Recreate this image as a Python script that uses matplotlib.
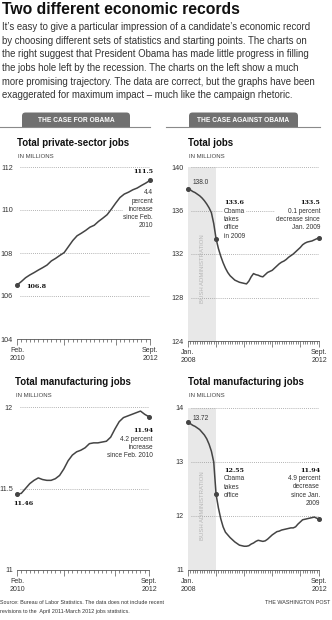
import matplotlib
matplotlib.use('Agg')
import matplotlib.pyplot as plt
from matplotlib.patches import FancyBboxPatch, Rectangle
import numpy as np

plt.rcParams['font.family'] = ['Liberation Sans', 'DejaVu Sans']

# ---- data (millions of jobs, monthly) ----
# Feb 2010 .. Sept 2012
private_jobs = [106.51, 106.67, 106.85, 106.98, 107.09, 107.21, 107.32, 107.44,
                107.63, 107.75, 107.89, 108.02, 108.30, 108.58, 108.80, 108.92,
                109.05, 109.20, 109.29, 109.47, 109.62, 109.78, 110.04, 110.32,
                110.58, 110.74, 110.83, 110.94, 111.02, 111.14, 111.25, 111.38]
# Jan 2008 .. Sept 2012
total_jobs = [138.0, 137.9, 137.75, 137.65, 137.5, 137.35, 137.15, 136.9, 136.6,
              136.25, 135.8, 134.8, 133.4, 132.5, 131.8, 131.2, 130.7, 130.3,
              130.0, 129.8, 129.6, 129.5, 129.4, 129.35, 129.3, 129.25, 129.5,
              129.9, 130.2, 130.1, 130.05, 129.95, 129.9, 130.1, 130.3, 130.4,
              130.5, 130.7, 130.9, 131.1, 131.25, 131.35, 131.5, 131.7, 131.85,
              132.0, 132.2, 132.4, 132.6, 132.85, 133.0, 133.1, 133.15, 133.2,
              133.3, 133.4, 133.5]
# Feb 2010 .. Sept 2012
mfg_short = [11.465, 11.47, 11.50, 11.53, 11.55, 11.565, 11.555, 11.55, 11.55,
             11.56, 11.58, 11.62, 11.67, 11.705, 11.725, 11.735, 11.75, 11.775,
             11.78, 11.78, 11.785, 11.79, 11.815, 11.865, 11.91, 11.935, 11.945,
             11.955, 11.965, 11.975, 11.955, 11.94]
# Jan 2008 .. Sept 2012
mfg_long = [13.74, 13.71, 13.68, 13.66, 13.63, 13.6, 13.55, 13.5, 13.43, 13.33,
            13.2, 13.0, 12.4, 12.15, 11.95, 11.8, 11.7, 11.65, 11.6, 11.56, 11.52,
            11.49, 11.46, 11.45, 11.44, 11.44, 11.45, 11.48, 11.5, 11.53, 11.55,
            11.54, 11.53, 11.54, 11.57, 11.61, 11.65, 11.68, 11.71, 11.72, 11.74,
            11.75, 11.76, 11.77, 11.78, 11.78, 11.8, 11.85, 11.89, 11.93, 11.94,
            11.95, 11.96, 11.97, 11.98, 11.96, 11.94]

body = [
    "It\u2019s easy to give a particular impression of a candidate\u2019s economic record",
    "by choosing different sets of statistics and starting points. The charts on",
    "the right suggest that President Obama has made little progress in filling",
    "the jobs hole left by the recession. The charts on the left show a much",
    "more promising trajectory. The data are correct, but the graphs have been",
    "exaggerated for maximum impact \u2013 much like the campaign rhetoric.",
]

LINE = '#444444'
W, H = 332, 620
fig = plt.figure(figsize=(W / 100, H / 100), dpi=100)

bg = fig.add_axes([0, 0, 1, 1])
bg.set_xlim(0, W)
bg.set_ylim(H, 0)
bg.axis('off')


def box(l, t, r, b):
    return [l / W, 1 - b / H, (r - l) / W, (b - t) / H]


def panel(l, t, r, b, values, ylim, yticks, ylabels, major, xlabels):
    ax = fig.add_axes(box(l, t, r, b))
    ax.patch.set_alpha(0)
    x = np.arange(len(values))
    ax.plot(x, values, color=LINE, lw=1.1, zorder=3, clip_on=False)
    ax.set_xlim(0, len(values) - 1)
    ax.set_ylim(*ylim)
    for s in ['top', 'right', 'left']:
        ax.spines[s].set_visible(False)
    ax.spines['bottom'].set_color('#555555')
    ax.spines['bottom'].set_linewidth(0.6)
    ax.set_yticks(yticks)
    ax.set_yticklabels(ylabels)
    ax.tick_params(axis='y', length=0, pad=3, labelsize=5.2, labelcolor='#333333')
    for v in yticks[1:]:
        ax.axhline(v, xmin=0.02, color='#9a9a9a', lw=0.6, ls=(0, (1, 1.5)), zorder=1)
    ax.set_xticks(major)
    ax.set_xticklabels(xlabels)
    ax.set_xticks(x, minor=True)
    ax.tick_params(axis='x', which='major', length=4, width=0.5, color='#555555',
                   labelsize=5, labelcolor='#333333', pad=2)
    ax.tick_params(axis='x', which='minor', length=2.2, width=0.5, color='#555555')
    for lab in ax.get_xticklabels():
        lab.set_linespacing(1.1)
    return ax


def dot(ax, i, values):
    ax.plot(i, values[i], 'o', color=LINE, ms=2.6, zorder=4, clip_on=False)


def note(ax, i, values, s, dx, dy, ha, va, bold=False, size=4.7, color='#333333',
         boxed=True):
    kw = dict(fontsize=size, color=color, ha=ha, va=va, linespacing=1.25,
              textcoords='offset pixels', zorder=2)
    if boxed:
        kw['bbox'] = dict(fc='white', ec='none', pad=0.6)
    if bold:
        kw.update(fontweight='bold', family='DejaVu Serif', color='#111111',
                  fontsize=4.6)
    ax.annotate(s, xy=(i, values[i]), xytext=(dx, dy), **kw)


# ---- header ----
bg.text(2, 9, "Two different economic records", fontsize=11.3, fontweight='bold',
        va='center', ha='left', color='#111111')
for k, line in enumerate(body):
    bg.text(2, 27 + k * 13.7, line, fontsize=6.9, va='center', ha='left', color='#333333')

# tabs
for (tl, tr, ll, lr, label) in [(22, 130, 0, 150, "THE CASE FOR OBAMA"),
                                 (189, 298, 166, 320, "THE CASE AGAINST OBAMA")]:
    bg.add_patch(FancyBboxPatch((tl, 112.5), tr - tl, 14.5,
                                boxstyle='round,pad=0,rounding_size=3.5',
                                fc='#707070', ec='none'))
    bg.add_patch(Rectangle((tl, 120), tr - tl, 7, fc='#707070', ec='none'))
    bg.plot([ll, lr], [127, 127], color='#8a8a8a', lw=0.8)
    bg.text((tl + tr) / 2, 120, label, fontsize=4.8, fontweight='bold', color='white',
            ha='center', va='center')

# panel titles
for (x0, y0, title) in [(17, 143, "Total private-sector jobs"), (188, 143, "Total jobs"),
                        (15, 382, "Total manufacturing jobs"),
                        (188, 382, "Total manufacturing jobs")]:
    bg.text(x0, y0, title, fontsize=7.0, fontweight='bold', color='#111111',
            ha='left', va='center')
    bg.text(x0 + 1, y0 + 13.5, "IN MILLIONS", fontsize=4.3, color='#444444',
            ha='left', va='center')

# ---- panel 1: private-sector jobs ----
ax1 = panel(17, 167, 150, 339, private_jobs, (104, 112), [104, 106, 108, 110, 112],
            ['104', '106', '108', '110', '112'], [0, 11, 23, 31],
            ['Feb.\n2010', '', '', 'Sept.\n2012'])
dot(ax1, 0, private_jobs)
dot(ax1, 31, private_jobs)
note(ax1, 31, private_jobs, "111.5", 3, 9, 'right', 'center', bold=True)
note(ax1, 31, private_jobs, "4.4\npercent\nincrease\nsince Feb.\n2010", 3, -9, 'right', 'top')
note(ax1, 0, private_jobs, "106.8", 9, -1, 'left', 'center', bold=True)

# ---- panel 2: total jobs ----
ax2 = panel(188, 167, 319, 341, total_jobs, (124, 140), [124, 128, 132, 136, 140],
            ['124', '128', '132', '136', '140'], [0, 12, 24, 36, 48, 56],
            ['Jan.\n2008', '', '', '', '', 'Sept.\n2012'])
ax2.axvspan(0, 12, color='#e8e8e8', zorder=0, lw=0)
ax2.text(6, 130.7, "BUSH ADMINISTRATION", rotation=90, fontsize=4.3, color='#b5b5b5',
         ha='center', va='center', zorder=2)
for i in [0, 12, 56]:
    dot(ax2, i, total_jobs)
note(ax2, 0, total_jobs, "138.0", 5, 6, 'left', 'center', boxed=False)
note(ax2, 12, total_jobs, "133.6", 8, 36, 'left', 'center', bold=True)
note(ax2, 12, total_jobs, "Obama\ntakes\noffice\nin 2009", 8, 31, 'left', 'top')
note(ax2, 56, total_jobs, "133.5", 1, 35, 'right', 'center', bold=True)
note(ax2, 56, total_jobs, "0.1 percent\ndecrease since\nJan. 2009", 1, 30, 'right', 'top')

# ---- panel 3: manufacturing, short ----
ax3 = panel(17, 407, 149, 570, mfg_short, (11, 12), [11, 11.5, 12],
            ['11', '11.5', '12'], [0, 11, 23, 31],
            ['Feb.\n2010', '', '', 'Sept.\n2012'])
dot(ax3, 0, mfg_short)
dot(ax3, 31, mfg_short)
note(ax3, 0, mfg_short, "11.46", -4, -9, 'left', 'center', bold=True)
note(ax3, 31, mfg_short, "11.94", 4, -14, 'right', 'center', bold=True)
note(ax3, 31, mfg_short, "4.2 percent\nincrease\nsince Feb. 2010", 4, -19, 'right', 'top')

# ---- panel 4: manufacturing, long ----
ax4 = panel(188, 408, 319, 570, mfg_long, (11, 14), [11, 12, 13, 14],
            ['11', '12', '13', '14'], [0, 12, 24, 36, 48, 56],
            ['Jan.\n2008', '', '', '', '', 'Sept.\n2012'])
ax4.axvspan(0, 12, color='#e8e8e8', zorder=0, lw=0)
ax4.text(6, 12.2, "BUSH ADMINISTRATION", rotation=90, fontsize=4.3, color='#b5b5b5',
         ha='center', va='center', zorder=2)
for i in [0, 12, 56]:
    dot(ax4, i, mfg_long)
note(ax4, 0, mfg_long, "13.72", 5, 4, 'left', 'center', boxed=False)
note(ax4, 12, mfg_long, "12.55", 8, 24, 'left', 'center', bold=True)
note(ax4, 12, mfg_long, "Obama\ntakes\noffice", 8, 19, 'left', 'top')
note(ax4, 56, mfg_long, "11.94", 1, 49, 'right', 'center', bold=True)
note(ax4, 56, mfg_long, "4.9 percent\ndecrease\nsince Jan.\n2009", 1, 44, 'right', 'top')

# ---- footer ----
bg.text(0, 603, "Source: Bureau of Labor Statistics. The data does not include recent",
        fontsize=3.9, color='#333333', ha='left', va='center')
bg.text(0, 612, "revisions to the  April 2011-March 2012 jobs statistics.",
        fontsize=3.9, color='#333333', ha='left', va='center')
bg.text(330, 603, "THE WASHINGTON POST", fontsize=3.9, color='#333333',
        ha='right', va='center')

fig.savefig('out.png', dpi=100)
